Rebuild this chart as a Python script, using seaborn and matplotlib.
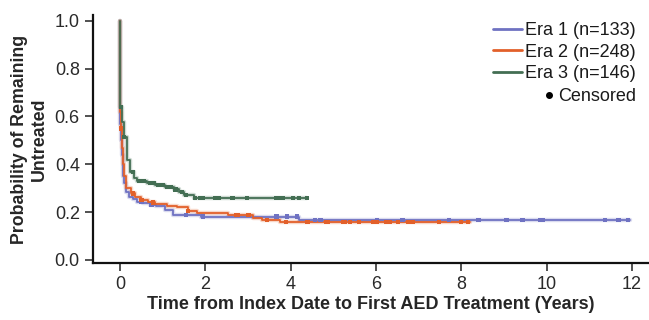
import numpy as np
import pandas as pd
import matplotlib
matplotlib.use("Agg")
import matplotlib.pyplot as plt
from matplotlib.lines import Line2D
import seaborn as sns

# ---- data ----
era_labels = ["Era 1 (n=133)", "Era 2 (n=248)", "Era 3 (n=146)"]
era_colors = ["#6f72c2", "#e2602a", "#436e53"]

era1_t = [0, 0.005, 0.02, 0.04, 0.06, 0.08, 0.1, 0.14, 0.2, 0.3, 0.4, 0.55, 0.7, 0.85, 1.05, 1.25, 1.9, 4.2]
era1_s = [1.0, 0.57, 0.50, 0.44, 0.39, 0.35, 0.32, 0.285, 0.265, 0.254, 0.244, 0.237, 0.23, 0.226, 0.209, 0.188, 0.181, 0.168]
era1_end = 11.95
era1_cens = [0.5, 0.74, 1.55, 1.95, 3.67, 3.91, 4.15, 4.57, 4.70, 6.03, 6.62, 7.71, 8.4, 9.06, 9.43, 9.84, 9.92, 11.37, 11.68, 11.91]

era2_t = [0, 0.005, 0.02, 0.04, 0.07, 0.1, 0.15, 0.25, 0.35, 0.5, 0.65, 0.82, 1.1, 1.33, 1.6, 1.8, 2.54, 3.12, 3.32, 3.75]
era2_s = [1.0, 0.62, 0.55, 0.47, 0.40, 0.35, 0.30, 0.278, 0.262, 0.25, 0.241, 0.233, 0.227, 0.22, 0.206, 0.195, 0.187, 0.174, 0.167, 0.16]
era2_end = 8.2
era2_cens = [0.02, 0.3, 0.5, 0.77, 1.6, 2.73, 2.75, 3.0, 3.01, 3.44, 3.89, 4.39, 4.84, 4.86, 5.23, 5.27, 5.39, 5.6, 5.94, 6.03, 6.25, 6.33, 6.52, 6.76, 6.87, 7.48, 7.99, 8.16]

era3_t = [0, 0.007, 0.047, 0.10, 0.164, 0.24, 0.32, 0.40, 0.63, 0.82, 1.05, 1.26, 1.38, 1.49, 1.73]
era3_s = [1.0, 0.64, 0.578, 0.515, 0.418, 0.369, 0.341, 0.331, 0.323, 0.313, 0.304, 0.295, 0.285, 0.272, 0.26]
era3_end = 4.38
era3_cens = [0.03, 0.1, 0.3, 0.45, 0.55, 0.7, 0.8, 0.9, 1.0, 1.1, 1.2, 1.3, 1.45, 1.55, 1.76, 1.87, 1.95, 2.23, 2.32, 2.64, 2.97, 3.67, 3.72, 3.82, 4.05, 4.2, 4.38]

# ---- build tables ----
curves = [(era1_t, era1_s, era1_end, era1_cens),
          (era2_t, era2_s, era2_end, era2_cens),
          (era3_t, era3_s, era3_end, era3_cens)]
rows, crows = [], []
for lab, (t, s, end, cens) in zip(era_labels, curves):
    tt = list(t) + [end]
    ss = list(s) + [s[-1]]
    for a, b in zip(tt, ss):
        rows.append({"time": a, "surv": b, "era": lab})
    idx = np.searchsorted(np.array(t), np.array(cens), side="right") - 1
    for c, i in zip(cens, idx):
        crows.append({"time": c, "surv": s[i], "era": lab})
df = pd.DataFrame(rows)
cdf = pd.DataFrame(crows)

sns.set_theme(style="ticks")
plt.rcParams["font.family"] = ["Liberation Sans", "DejaVu Sans"]

fig = plt.figure(figsize=(6.49, 3.20), dpi=100)
ax = fig.add_axes([93/649, 57/320, (649-93)/649, (263-15)/320])
palette = dict(zip(era_labels, era_colors))

# faint halo (band-like) under each line
for lab in era_labels:
    sub = df[df.era == lab]
    ax.step(sub.time, sub.surv, where="post", color=palette[lab], lw=3.2, alpha=0.25)

sns.lineplot(data=df, x="time", y="surv", hue="era", palette=palette,
             drawstyle="steps-post", estimator=None, sort=False, lw=1.3,
             legend=False, ax=ax)
sns.scatterplot(data=cdf, x="time", y="surv", hue="era", palette=palette,
                marker="s", s=10, linewidth=0, legend=False, ax=ax, zorder=5)

ax.set_xlim((93-120)/42.67, (649-120)/42.67)
ax.set_ylim((260-263)/239.3, (260-15)/239.3)
ax.set_xticks([0, 2, 4, 6, 8, 10, 12])
ax.set_yticks([0.0, 0.2, 0.4, 0.6, 0.8, 1.0])
ax.set_yticklabels(["0.0", "0.2", "0.4", "0.6", "0.8", "1.0"])
ax.tick_params(axis="both", labelsize=13, colors="#222222", length=6, width=1.1, direction="out")
for lbl in ax.get_xticklabels() + ax.get_yticklabels():
    lbl.set_color("#2a2a2a")
ax.set_xlabel("Time from Index Date to First AED Treatment (Years)", fontsize=13, fontweight="bold", labelpad=2)
ax.set_ylabel("Probability of Remaining\nUntreated", fontsize=12.8, fontweight="bold", labelpad=5)
sns.despine(ax=ax)
for sp in ["left", "bottom"]:
    ax.spines[sp].set_linewidth(1.6)
    ax.spines[sp].set_color("#111111")

handles = [Line2D([0], [0], color=c, lw=2) for c in era_colors]
leg1 = ax.legend(handles, era_labels, loc="upper right", bbox_to_anchor=(645/649, 307/320),
                 bbox_transform=fig.transFigure, frameon=False, fontsize=13,
                 handlelength=1.6, handletextpad=0.2, labelspacing=0.25, borderpad=0)
for t in leg1.get_texts():
    t.set_color("#1a1a1a")
ax.add_artist(leg1)
h2 = [Line2D([0], [0], color="black", marker="o", ls="none", markersize=4)]
leg2 = ax.legend(h2, ["Censored"], loc="upper right", bbox_to_anchor=(645/649, 241/320),
                 bbox_transform=fig.transFigure, frameon=False, fontsize=13,
                 handlelength=0.4, handletextpad=0.3, borderpad=0)
for t in leg2.get_texts():
    t.set_color("#1a1a1a")

fig.savefig("out.png", dpi=100)
